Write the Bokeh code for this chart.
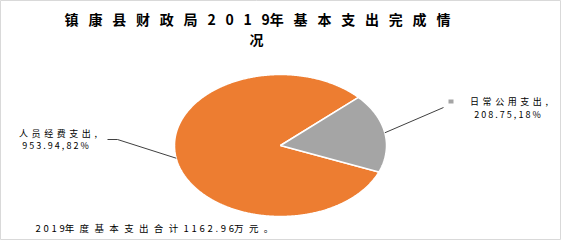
import math

from bokeh.embed import file_html
from bokeh.models import Label, Range1d
from bokeh.plotting import figure
from bokeh.resources import INLINE

# ---- data -------------------------------------------------------------
categories = ["人员经费支出", "日常公用支出"]
values = [953.94, 208.75]
colors = ["#ED7D31", "#A5A5A5"]
title_lines = ["镇康县财政局2019年基本支出完成情", "况"]
footer_text = "2019年度基本支出合计1162.96万元。"

# ---- layout (canvas pixels, y measured from the bottom) ----------------
W, H = 561, 240
CX, CY, RX, RY = 280, 95, 106, 71    # elliptical (tilted) pie
START_DEG = -22.0                     # first slice starts here, runs clockwise
FONT = "Noto Sans CJK SC"


def is_cjk(ch):
    return ord(ch) > 0x2000


def spread(s, latin_sep=" ", cjk_sep="\u2002"):
    """Insert the wide inter-character spacing used by the labels."""
    out = ""
    for i, ch in enumerate(s):
        out += ch
        if i + 1 < len(s):
            nxt = s[i + 1]
            if is_cjk(ch):
                out += cjk_sep
            elif not is_cjk(nxt):
                out += latin_sep
    return out


def ell(theta_deg, r=1.0):
    t = math.radians(theta_deg)
    return CX + RX * r * math.cos(t), CY + RY * r * math.sin(t)


p = figure(width=W, height=H, output_backend="svg", toolbar_location=None,
           x_range=Range1d(0, W), y_range=Range1d(0, H), min_border=0)
p.axis.visible = False
p.grid.visible = False
p.outline_line_color = "#D9D9D9"
p.outline_line_width = 1
p.background_fill_color = "white"
p.border_fill_color = "white"

# ---- pie slices --------------------------------------------------------
total = sum(values)
xs, ys, mids = [], [], []
a0 = START_DEG
for v in values:
    span = 360.0 * v / total
    a1 = a0 - span
    n = max(8, int(span * 2))
    px, py = [CX], [CY]
    for k in range(n + 1):
        x, y = ell(a0 + (a1 - a0) * k / n)
        px.append(x)
        py.append(y)
    xs.append(px)
    ys.append(py)
    mids.append((a0 + a1) / 2.0)
    a0 = a1

p.patches(xs, ys, fill_color=colors, line_color="white", line_width=1.5)

# ---- leader lines ------------------------------------------------------
lx0, ly0 = ell(mids[0])
p.line([lx0, 117, 107], [ly0, 101, 101], line_color="#404040", line_width=1)
rx0, ry0 = ell(mids[1])
p.line([rx0, 443], [ry0, 133], line_color="#404040", line_width=1)

# small legend key next to the right-hand label
p.rect(x=[450.5], y=[139], width=5, height=4, fill_color=colors[1], line_color=None)

# ---- texts -------------------------------------------------------------
pct = [round(100 * v / total) for v in values]


def add_text(x, y, text, size, align="center", bold=False):
    p.add_layout(Label(x=x, y=y, text=text, text_font=FONT,
                       text_font_size=f"{size}px", text_align=align,
                       text_baseline="middle", text_color="#000000",
                       text_font_style="bold" if bold else "normal"))


title_sep = "\u2002\u2009"
add_text(257, 222, spread(title_lines[0], latin_sep=title_sep, cjk_sep=title_sep), 14, bold=True)
add_text(256, 201.5, title_lines[1], 14, bold=True)

label_sep = "\u2004\u200a"
add_text(57.5, 107, spread(categories[0] + ",", cjk_sep=label_sep), 9)
add_text(55, 95, spread(f"{values[0]:.2f},{pct[0]}%"), 9)

add_text(508.5, 139, spread(categories[1] + ",", cjk_sep=label_sep), 9)
add_text(507, 126, spread(f"{values[1]:.2f},{pct[1]}%"), 9)

add_text(35, 13, spread(footer_text, latin_sep=" \u200a", cjk_sep="\u2002\u200a"), 9.5, align="left")

open("out.html", "w").write(file_html(p, INLINE))
